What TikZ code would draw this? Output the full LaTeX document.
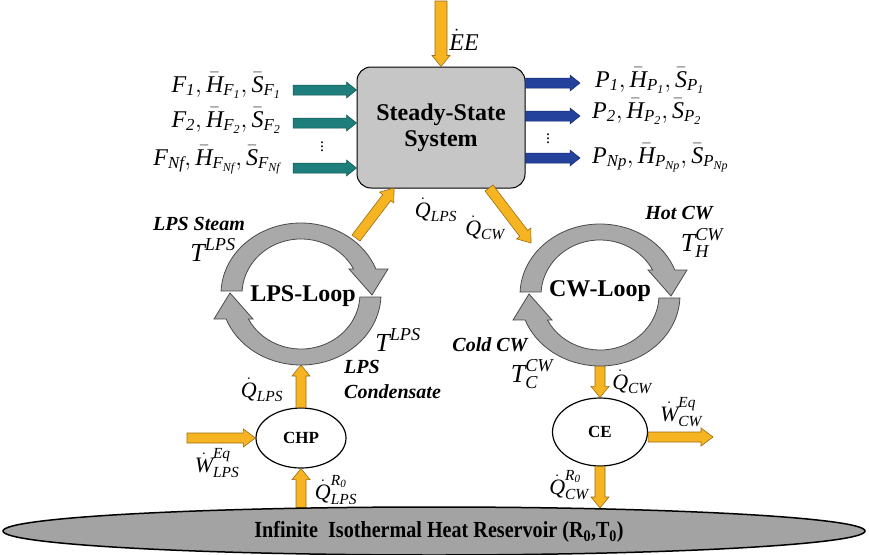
\documentclass[tikz,border=0pt]{standalone}
\usepackage{amsmath}
\usepackage{fontspec}
\setmainfont{Liberation Serif}
\usepackage{graphicx}
\usetikzlibrary{shapes.geometric}
\definecolor{ayellow}{HTML}{F6B422}
\definecolor{ayedge}{HTML}{9C6C10}
\definecolor{tealA}{HTML}{1E7E7B}
\definecolor{tealE}{HTML}{0E5250}
\definecolor{navyA}{HTML}{24429C}
\definecolor{navyE}{HTML}{142A70}
\definecolor{boxgray}{HTML}{C6C6C6}
\definecolor{ringgray}{HTML}{A9A9A9}
\definecolor{ringedge}{HTML}{4A4A4A}
\definecolor{resgray}{HTML}{A3A3A3}
\newcommand\ti[1]{\textit{#1}}
\newcommand\fsz[1]{\fontsize{#1}{#1}\selectfont}
\newcommand\blockarrow[6]{%
  \path (#2); \pgfgetlastxy{\bax}{\bay}%
  \path (#3); \pgfgetlastxy{\bbx}{\bby}%
  \pgfmathsetmacro\bang{atan2(\bby-\bay,\bbx-\bax)}%
  \pgfmathsetmacro\blen{veclen(\bbx-\bax,\bby-\bay)}%
  \pgfmathsetmacro\bhl{\blen-#6}%
  \filldraw[#1,shift={(\bax,\bay)},rotate=\bang] (0pt,-#4pt) -- (\bhl pt,-#4pt) -- (\bhl pt,-#5pt) -- (\blen pt,0pt) -- (\bhl pt,#5pt) -- (\bhl pt,#4pt) -- (0pt,#4pt) -- cycle;%
}
\newcommand\ringarc[1]{%
  \filldraw[ring,#1] (-79.93,3) arc[start angle=177.58, end angle=20.6, x radius=80, y radius=71]
    -- (87,25) -- (71,-1) -- (48,25) -- (52.6,25)
    arc[start angle=27.0, end angle=176.87, x radius=59, y radius=55] -- cycle;%
}
\tikzset{
  lab/.style={inner sep=0pt, font=\fsz{24}},
  tlab/.style={inner sep=0pt, font=\fsz{26}},
  qlab/.style={inner sep=0pt, font=\fsz{22}},
  bilab/.style={inner sep=0pt, font=\fsz{20}\bfseries\itshape},
  looplab/.style={inner sep=0pt, font=\fsz{24}\bfseries},
  ring/.style={fill=ringgray, draw=ringedge, line width=0.8pt},
  yarrow/.style={fill=ayellow, draw=ayedge, line width=0.6pt},
  tarrow/.style={fill=tealA, draw=tealE, line width=0.5pt},
  narrow/.style={fill=navyA, draw=navyE, line width=0.5pt},
  unit/.style={ellipse, draw, line width=1.2pt, fill=white, inner sep=0pt, font=\fsz{17}\bfseries}
}
\begin{document}
\begin{tikzpicture}[x=1pt,y=1pt]
\useasboundingbox (0,0) rectangle (869,-554);
% main box
\node[draw, fill=boxgray, rounded corners=14pt, minimum width=168pt, minimum height=121pt,
      line width=1pt, align=center, font=\fontsize{24}{26}\selectfont\bfseries] (box) at (441,-127.5) {Steady-State\\System};
% coordinates
\coordinate (eetop) at (441,-1);
\coordinate (f1) at (293,-90);
\coordinate (f2) at (293,-123);
\coordinate (f3) at (293,-168);
\coordinate (p1) at (580,-83);
\coordinate (p2) at (580,-116);
\coordinate (p3) at (580,-158);
\coordinate (lq) at (356,-238);
\coordinate (boxlps) at (394,-188);
\coordinate (boxcw) at (489,-188);
\coordinate (cq) at (531,-243);
\coordinate (lpsbot) at (301,-365);
\coordinate (cwbot) at (600,-365);
\coordinate (wl) at (187,-438);
\coordinate (wc) at (713,-437);
% units
\node[unit, minimum width=90pt, minimum height=60pt] (chp) at (301,-438) {CHP};
\node[unit, minimum width=95pt, minimum height=68pt] (ce) at (600,-432) {CE};
% arrows
\blockarrow{yarrow}{eetop}{box.north}{6}{9}{11}
\blockarrow{tarrow}{f1}{box.west |- f1}{5}{8}{10}
\blockarrow{tarrow}{f2}{box.west |- f2}{5}{8}{10}
\blockarrow{tarrow}{f3}{box.west |- f3}{5}{8}{10}
\blockarrow{narrow}{box.east |- p1}{p1}{5}{8}{10}
\blockarrow{narrow}{box.east |- p2}{p2}{5}{8}{10}
\blockarrow{narrow}{box.east |- p3}{p3}{5}{8}{10}
\blockarrow{yarrow}{lq}{boxlps}{5}{9}{12}
\blockarrow{yarrow}{boxcw}{cq}{5}{9}{12}
\blockarrow{yarrow}{chp.north}{lpsbot}{5}{9}{11}
\blockarrow{yarrow}{cwbot}{ce.north}{5}{9}{11}
\blockarrow{yarrow}{wl}{chp.west |- wl}{5}{9}{12}
\blockarrow{yarrow}{ce.east |- wc}{wc}{5}{9}{12}
\blockarrow{yarrow}{chp.south |- 0,-508}{chp.south}{5}{9}{11}
\blockarrow{yarrow}{ce.south}{ce.south |- 0,-508}{5}{9}{11}
% reservoir
\node[ellipse, draw, line width=1.5pt, fill=resgray, minimum width=862pt, minimum height=48pt, inner sep=0pt] (res) at (434,-531) {};
\node[inner sep=0pt, font=\fsz{23}\bfseries] (restext) at (439,-532) {\scalebox{0.875}[1]{Infinite\ \ Isothermal Heat Reservoir (R\textsubscript{0},T\textsubscript{0})}};
% loops
\begin{scope}[shift={(301,-294)}]
  \ringarc{}
  \ringarc{rotate=180}
\end{scope}
\begin{scope}[shift={(600,-295)}]
  \ringarc{}
  \ringarc{rotate=180}
\end{scope}
\node[looplab] (lpsloop) at (303,-296) {LPS-Loop};
\node[looplab] (cwloop) at (600,-291) {CW-Loop};
% dots
\node[inner sep=0pt, font=\fsz{16}] (fdots) at (322,-144) {$\vdots$};
\node[inner sep=0pt, font=\fsz{16}] (pdots) at (548,-136) {$\vdots$};
% labels
\node[lab, anchor=base east] (lf1) at (281,-92) {$\ti{F}_{\ti{1}},\bar{\ti{H}}_{\ti{F}_{\ti{1}}},\bar{\ti{S}}_{\ti{F}_{\ti{1}}}$};
\node[lab, anchor=base east] (lf2) at (281,-127) {$\ti{F}_{\ti{2}},\bar{\ti{H}}_{\ti{F}_{\ti{2}}},\bar{\ti{S}}_{\ti{F}_{\ti{2}}}$};
\node[lab, anchor=base east] (lf3) at (281,-165) {$\ti{F}_{\ti{Nf}},\bar{\ti{H}}_{\ti{F}_{\ti{Nf}}},\bar{\ti{S}}_{\ti{F}_{\ti{Nf}}}$};
\node[lab, anchor=base west] (lp1) at (595,-87) {$\ti{P}_{\ti{1}},\bar{\ti{H}}_{\ti{P}_{\ti{1}}},\bar{\ti{S}}_{\ti{P}_{\ti{1}}}$};
\node[lab, anchor=base west] (lp2) at (592,-118) {$\ti{P}_{\ti{2}},\bar{\ti{H}}_{\ti{P}_{\ti{2}}},\bar{\ti{S}}_{\ti{P}_{\ti{2}}}$};
\node[lab, anchor=base west] (lp3) at (592,-163) {$\ti{P}_{\ti{Np}},\bar{\ti{H}}_{\ti{P}_{\ti{Np}}},\bar{\ti{S}}_{\ti{P}_{\ti{Np}}}$};
\node[lab] (lee) at (464,-40) {$\dot{\ti{E}}\ti{E}$};
\node[qlab] (lqlps) at (436,-210) {$\dot{\ti{Q}}_{\ti{LPS}}$};
\node[qlab] (lqcw) at (485,-228) {$\dot{\ti{Q}}_{\ti{CW}}$};
\node[bilab] (lsteam) at (199,-224) {LPS Steam};
\node[tlab] (ltl) at (213,-250) {$\ti{T}^{\ti{LPS}}$};
\node[tlab] (ltr) at (398,-340) {$\ti{T}^{\ti{LPS}}$};
\node[bilab, anchor=west] (llps) at (344,-367) {LPS};
\node[bilab, anchor=west] (lcond) at (344,-392) {Condensate};
\node[bilab] (lhot) at (679,-213) {Hot CW};
\node[tlab] (lth) at (702,-243) {$\ti{T}_{\ti{H}}^{\ti{CW}}$};
\node[bilab] (lcold) at (490,-345) {Cold CW};
\node[tlab] (ltc) at (532,-374) {$\ti{T}_{\ti{C}}^{\ti{CW}}$};
\node[qlab] (lqcw2) at (632,-382) {$\dot{\ti{Q}}_{\ti{CW}}$};
\node[qlab] (lqlps2) at (262,-390) {$\dot{\ti{Q}}_{\ti{LPS}}$};
\node[qlab] (lwl) at (217,-463) {$\dot{\ti{W}}_{\ti{LPS}}^{\ti{Eq}}$};
\node[qlab] (lwc) at (681,-412) {$\dot{\ti{W}}_{\ti{CW}}^{\ti{Eq}}$};
\node[qlab] (lqr1) at (336,-490) {$\dot{\ti{Q}}_{\ti{LPS}}^{\ti{R}_{\ti{0}}}$};
\node[qlab] (lqr2) at (569,-485) {$\dot{\ti{Q}}_{\ti{CW}}^{\ti{R}_{\ti{0}}}$};
\end{tikzpicture}
\end{document}
